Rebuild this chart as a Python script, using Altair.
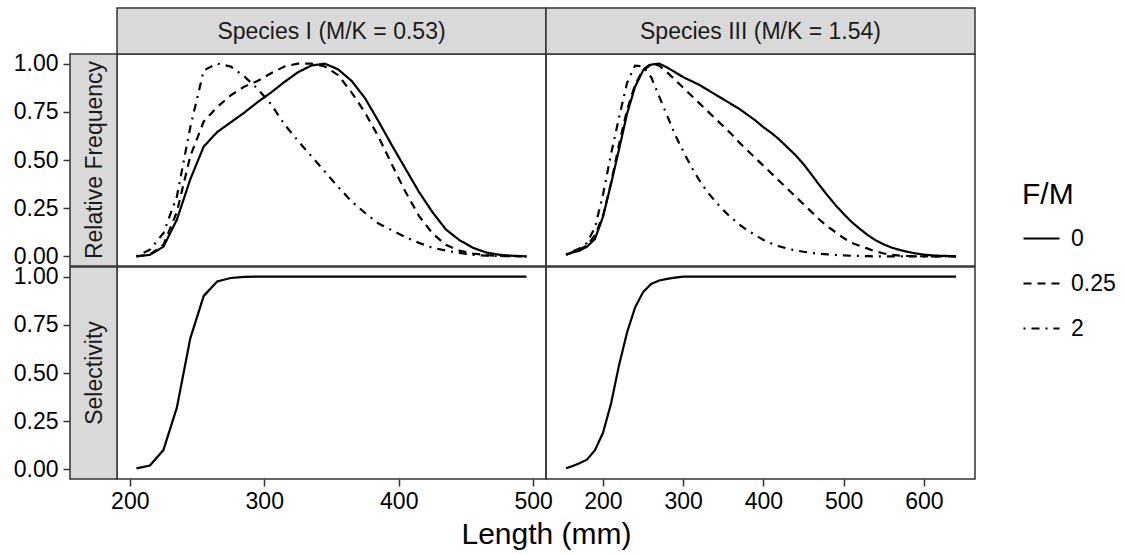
import altair as alt
import pandas as pd

FONT = "Liberation Sans"

# ---------------- data ----------------
fm_levels = ["0", "0.25", "2"]

len_I = list(range(205, 496, 10))
rf_I_0 = [0.0, 0.008, 0.05, 0.19, 0.40, 0.57, 0.645, 0.695, 0.745, 0.80,
          0.85, 0.905, 0.955, 0.99, 1.0, 0.97, 0.91, 0.82, 0.70, 0.575,
          0.455, 0.335, 0.23, 0.14, 0.085, 0.045, 0.02, 0.008, 0.003, 0.0]
rf_I_025 = [0.0, 0.01, 0.06, 0.23, 0.52, 0.70, 0.775, 0.835, 0.88, 0.91,
            0.95, 0.985, 1.0, 1.0, 0.985, 0.94, 0.85, 0.745, 0.62, 0.475,
            0.335, 0.21, 0.12, 0.06, 0.03, 0.015, 0.006, 0.002, 0.001, 0.0]
rf_I_2 = [0.0, 0.035, 0.12, 0.31, 0.67, 0.965, 1.0, 0.985, 0.935, 0.87,
          0.79, 0.685, 0.60, 0.52, 0.44, 0.36, 0.285, 0.225, 0.17, 0.135,
          0.10, 0.07, 0.045, 0.03, 0.018, 0.008, 0.004, 0.002, 0.001, 0.0]
sel_I = [0.005, 0.02, 0.10, 0.32, 0.68, 0.90, 0.975, 0.993, 0.999] + [1.0] * 21

len_III = [154] + list(range(160, 641, 10))
rf_III_0 = [0.008, 0.018, 0.028, 0.05, 0.09, 0.205, 0.375, 0.555, 0.74, 0.88,
            0.965, 0.995, 1.0, 0.98, 0.955, 0.93, 0.91, 0.89, 0.865, 0.84,
            0.815, 0.79, 0.765, 0.735, 0.705, 0.67, 0.64, 0.605, 0.565, 0.525,
            0.478, 0.424, 0.368, 0.315, 0.265, 0.22, 0.178, 0.143, 0.11, 0.083,
            0.062, 0.045, 0.033, 0.023, 0.015, 0.009, 0.005, 0.003, 0.002, 0.001]
rf_III_025 = [0.008, 0.018, 0.035, 0.055, 0.11, 0.21, 0.38, 0.58, 0.76, 0.89,
              0.97, 1.0, 0.99, 0.955, 0.915, 0.875, 0.835, 0.795, 0.755, 0.715,
              0.675, 0.635, 0.59, 0.55, 0.51, 0.47, 0.43, 0.39, 0.35, 0.31,
              0.27, 0.23, 0.19, 0.155, 0.125, 0.095, 0.07, 0.055, 0.04, 0.025,
              0.015, 0.008, 0.004, 0.002, 0.001, 0.0, 0.0, 0.0, 0.0, 0.0]
rf_III_2 = [0.01, 0.022, 0.04, 0.07, 0.15, 0.32, 0.53, 0.72, 0.90, 0.99,
            0.985, 0.93, 0.83, 0.73, 0.63, 0.545, 0.465, 0.395, 0.335, 0.285,
            0.24, 0.2, 0.165, 0.135, 0.11, 0.085, 0.067, 0.052, 0.04, 0.031,
            0.024, 0.018, 0.013, 0.01, 0.007, 0.005, 0.003, 0.002, 0.001, 0.0,
            0.0, 0.0, 0.0, 0.0, 0.0, 0.0, 0.0, 0.0, 0.0, 0.0]
sel_III = [0.006, 0.014, 0.03, 0.05, 0.10, 0.19, 0.34, 0.54, 0.71, 0.84,
           0.92, 0.962, 0.98, 0.988, 0.995] + [1.0] * 35

col_labels = ["Species I (M/K = 0.53)", "Species III (M/K = 1.54)"]
row_labels = ["Relative Frequency", "Selectivity"]
y_ticks = [0, 0.25, 0.5, 0.75, 1.0]
x_ticks_I = [200, 300, 400, 500]
x_ticks_III = [200, 300, 400, 500, 600]

# ---------------- layout / style ----------------
W, H = 429, 212
SW = 47   # row strip width
CH = 46   # column strip height
STRIP_FILL = "#D9D9D9"
DARK = "#333333"
FS = 23
xdom_I = [190.5, 509.5]
xdom_III = [129.0, 663.6]


def rf_frame(lengths, series):
    rows = []
    for lvl, vals in zip(fm_levels, series):
        for L, v in zip(lengths, vals):
            rows.append({"Length": L, "value": v, "FM": lvl})
    return pd.DataFrame(rows)


def sel_frame(lengths, vals):
    return pd.DataFrame({"Length": lengths, "value": vals})


def x_enc(dom, ticks, show, title=False):
    if show:
        axis = alt.Axis(values=ticks, format="d", grid=False, domain=False,
                        tickSize=7, tickWidth=1.5, tickColor=DARK,
                        labelFont=FONT, labelFontSize=FS, labelColor="black",
                        labelPadding=4, labelFlush=False,
                        title="Length (mm)" if title else None,
                        titleFont=FONT, titleFontSize=30, titleFontWeight="normal",
                        titleColor="black", titleX=W, titleY=64,
                        titleAlign="center", titleBaseline="alphabetic")
    else:
        axis = None
    return alt.X("Length:Q", scale=alt.Scale(domain=dom, nice=False, zero=False), axis=axis)


def y_enc(show):
    if show:
        axis = alt.Axis(values=y_ticks, format=".2f", grid=False, domain=False,
                        offset=SW, tickSize=7, tickWidth=1.5, tickColor=DARK,
                        labelFont=FONT, labelFontSize=FS, labelColor="black",
                        labelPadding=5, labelFlush=False, title=None)
    else:
        axis = None
    return alt.Y("value:Q", scale=alt.Scale(domain=[-0.05, 1.05], nice=False, zero=False), axis=axis)


def col_strip(label):
    base = alt.Chart(pd.DataFrame({"label": [label]}))
    rect = base.mark_rect(fill=STRIP_FILL, stroke=DARK, strokeWidth=1.5).encode(
        x=alt.value(0), x2=alt.value(W), y=alt.value(-CH), y2=alt.value(0))
    txt = base.mark_text(font=FONT, fontSize=FS, color="#1A1A1A", baseline="middle",
                         align="center").encode(
        x=alt.value(W / 2), y=alt.value(-CH / 2 + 1), text="label:N")
    return [rect, txt]


def row_strip(label):
    base = alt.Chart(pd.DataFrame({"label": [label]}))
    rect = base.mark_rect(fill=STRIP_FILL, stroke=DARK, strokeWidth=1.5).encode(
        x=alt.value(-SW), x2=alt.value(0), y=alt.value(0), y2=alt.value(H))
    txt = base.mark_text(font=FONT, fontSize=FS, color="#1A1A1A", baseline="middle",
                         align="center", angle=270).encode(
        x=alt.value(-SW / 2 + 1), y=alt.value(H / 2), text="label:N")
    return [rect, txt]


dash = alt.StrokeDash(
    "FM:N",
    scale=alt.Scale(domain=fm_levels, range=[[1, 0], [8, 6], [2, 6, 8, 6]]),
    legend=alt.Legend(title="F/M", orient="none", legendX=905, legendY=126,
                      symbolType="stroke", symbolSize=1296, symbolStrokeWidth=2.2,
                      symbolStrokeColor="black", titleFont=FONT, titleFontSize=30,
                      titleFontWeight="normal", titleColor="black", titlePadding=9,
                      labelFont=FONT, labelFontSize=FS, labelColor="black",
                      labelOffset=10, rowPadding=13, padding=0),
)


def rf_panel(lengths, series, dom, ticks, first):
    lines = alt.Chart(rf_frame(lengths, series)).mark_line(
        color="black", strokeWidth=2.2, strokeCap="butt").encode(
        x=x_enc(dom, ticks, False), y=y_enc(first), strokeDash=dash)
    layers = []
    layers += col_strip(col_labels[0] if first else col_labels[1])
    if first:
        layers += row_strip(row_labels[0])
    layers.append(lines)
    return alt.layer(*layers).properties(width=W, height=H)


def sel_panel(lengths, vals, dom, ticks, first):
    line = alt.Chart(sel_frame(lengths, vals)).mark_line(
        color="black", strokeWidth=2.2, strokeCap="butt").encode(
        x=x_enc(dom, ticks, True, title=first), y=y_enc(first))
    layers = []
    if first:
        layers += row_strip(row_labels[1])
    layers.append(line)
    return alt.layer(*layers).properties(width=W, height=H)


tl = rf_panel(len_I, [rf_I_0, rf_I_025, rf_I_2], xdom_I, x_ticks_I, True)
tr = rf_panel(len_III, [rf_III_0, rf_III_025, rf_III_2], xdom_III, x_ticks_III, False)
bl = sel_panel(len_I, sel_I, xdom_I, x_ticks_I, True)
br = sel_panel(len_III, sel_III, xdom_III, x_ticks_III, False)

chart = alt.concat(
    tl, tr, bl, br, columns=2, spacing={"row": 1, "column": 0}, bounds="flush"
).resolve_scale(
    x="independent", y="independent", strokeDash="shared"
).properties(
    padding={"left": 12, "top": 6, "right": 5, "bottom": 5},
    background="white",
).configure_view(
    stroke=DARK, strokeWidth=1.5
)

chart.save("out.html", embed_options={"renderer": "svg", "actions": False})
